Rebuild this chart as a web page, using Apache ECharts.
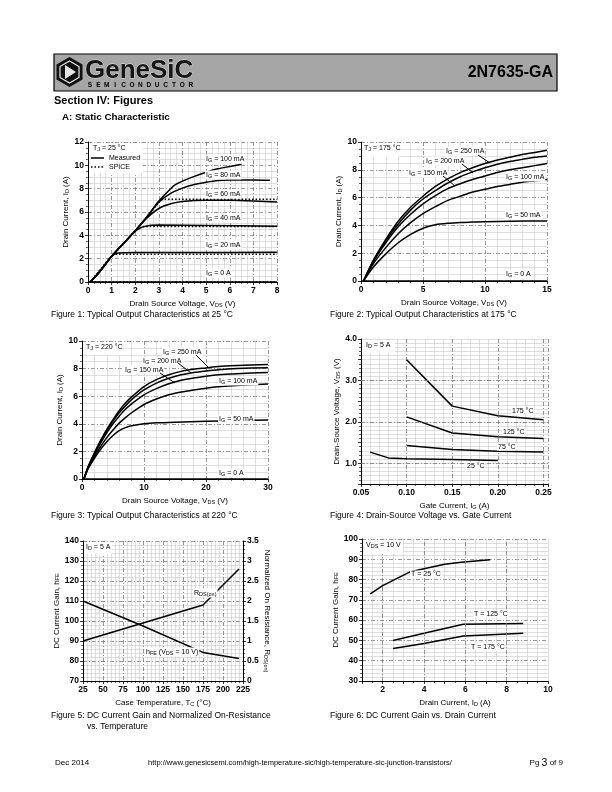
<!DOCTYPE html>
<html><head><meta charset="utf-8">
<script src="https://cdn.jsdelivr.net/npm/echarts@6/dist/echarts.min.js"></script>
<style>html,body{margin:0;padding:0;background:#fff}#c{width:612px;height:792px}</style>
</head><body><div id="c"></div>
<script>
// ---------------- Figure 1 : Tj = 25 °C (VDS [V], ID [A]) ----------------
const f1_ig0   = [[0,0],[8,0]];
const f1_ig20  = [[0.1,0],[0.5,0.9],[1,2.2],[1.2,2.45],[1.5,2.5],[2,2.52],[4,2.53],[8,2.55]];
const f1_ig40  = [[0.1,0],[0.5,0.9],[1,2.2],[1.5,3.3],[2,4.35],[2.3,4.7],[2.6,4.85],[3,4.88],[5,4.85],[8,4.78]];
const f1_ig60  = [[0.1,0],[0.5,0.9],[1,2.2],[1.5,3.3],[2,4.4],[2.5,5.5],[3,6.3],[3.5,6.7],[4,6.9],[5,7.0],[6,7.0],[7,6.95],[8,6.85]];
const f1_ig80  = [[0.1,0],[0.5,0.9],[1,2.2],[1.5,3.3],[2,4.4],[2.5,5.6],[3,6.85],[3.5,7.6],[4,8.05],[4.5,8.35],[5,8.55],[5.5,8.7],[6,8.75],[7,8.75],[7.7,8.72]];
const f1_ig100 = [[0.1,0],[0.5,0.9],[1,2.2],[1.5,3.3],[2,4.4],[2.5,5.6],[3,6.95],[3.5,8.0],[3.7,8.35],[4,8.65],[4.5,9.05],[5,9.4],[5.5,9.7],[6,9.9],[6.5,10.1]];
const f1_sp0   = [[0,0],[8,0]];
const f1_sp20  = [[0.1,0],[1.05,2.38],[8,2.38]];
const f1_sp40  = [[0.1,0],[1,2.2],[2.1,4.6],[2.3,4.75],[8,4.75]];
const f1_sp60  = [[0.1,0],[1,2.2],[2,4.4],[3.1,7.05],[3.3,7.1],[8,7.1]];
const f1_labels = ['100 mA','80 mA','60 mA','40 mA','20 mA','0 A'];

// ---------------- Figure 2 : Tj = 175 °C ----------------
const f2_ig250 = [[0.2,0],[1,1.5],[2,3.0],[3,4.3],[4,5.3],[5,6.1],[6,6.8],[7,7.35],[8,7.8],[9,8.15],[10,8.45],[11,8.7],[12,8.9],[13,9.1],[14,9.25],[15,9.4]];
const f2_ig200 = [[0.2,0],[1,1.45],[2,2.9],[3,4.1],[4,5.1],[5,5.9],[6,6.5],[7,7.05],[8,7.5],[9,7.85],[10,8.15],[11,8.4],[12,8.6],[13,8.75],[14,8.9],[15,9.0]];
const f2_ig150 = [[0.2,0],[1,1.4],[2,2.75],[3,3.9],[4,4.8],[5,5.55],[6,6.15],[7,6.65],[8,7.0],[9,7.3],[10,7.55],[11,7.8],[12,8.0],[13,8.15],[14,8.3],[15,8.45]];
const f2_ig100 = [[0.2,0],[1,1.25],[2,2.4],[3,3.4],[4,4.2],[5,4.85],[6,5.35],[7,5.8],[8,6.1],[9,6.4],[10,6.6],[11,6.8],[12,6.95],[13,7.1],[14,7.2],[15,7.3]];
const f2_ig50  = [[0.2,0],[1,1.0],[2,1.95],[3,2.75],[4,3.35],[5,3.8],[6,4.05],[7,4.15],[8,4.2],[9,4.25],[10,4.27],[12,4.3],[15,4.32]];
const f2_ig0   = [[0,0],[15,0]];

// ---------------- Figure 3 : Tj = 220 °C ----------------
const f3_ig250 = [[0.3,0],[1,0.9],[2,1.9],[3,2.8],[4,3.6],[5,4.3],[6,4.95],[7,5.5],[8,5.95],[10,6.7],[12,7.2],[14,7.55],[16,7.8],[18,7.95],[20,8.05],[22,8.15],[25,8.22],[30,8.3]];
const f3_ig200 = [[0.3,0],[1,0.88],[2,1.85],[3,2.7],[4,3.5],[5,4.2],[6,4.8],[7,5.3],[8,5.75],[10,6.45],[12,6.95],[14,7.3],[16,7.55],[18,7.72],[20,7.83],[22,7.92],[25,8.0],[30,8.07]];
const f3_ig150 = [[0.3,0],[1,0.85],[2,1.75],[3,2.6],[4,3.35],[5,4.0],[6,4.55],[7,5.05],[8,5.45],[10,6.1],[12,6.55],[14,6.9],[16,7.15],[18,7.32],[20,7.45],[22,7.55],[25,7.63],[30,7.72]];
const f3_ig100 = [[0.3,0],[1,0.8],[2,1.6],[3,2.35],[4,3.0],[5,3.55],[6,4.05],[7,4.45],[8,4.8],[10,5.4],[12,5.8],[14,6.1],[16,6.3],[18,6.45],[20,6.58],[22,6.68],[25,6.78],[30,6.88]];
const f3_ig50  = [[0.3,0],[1,0.75],[2,1.5],[3,2.15],[4,2.7],[5,3.15],[6,3.5],[7,3.72],[8,3.86],[10,4.0],[12,4.07],[15,4.12],[20,4.18],[25,4.23],[30,4.28]];
const f3_ig0   = [[0,0],[30,0]];

// ---------------- Figure 4 : VDS vs IG (ID = 5 A) ----------------
const f4_t175 = [[0.10,3.5],[0.15,2.38],[0.20,2.15],[0.25,2.05]];
const f4_t125 = [[0.10,2.12],[0.15,1.73],[0.20,1.64],[0.25,1.6]];
const f4_t75  = [[0.10,1.43],[0.15,1.33],[0.20,1.29],[0.25,1.27]];
const f4_t25  = [[0.06,1.27],[0.08,1.13],[0.10,1.11],[0.15,1.09],[0.20,1.07]];
const f4YMajor = [1, 2, 3];

// ---------------- Figure 5 : hFE and RDS(on) vs Tc ----------------
const f5_hfe = [[25,110],[100,97.5],[175,84.3],[220,81.2]];
const f5_rds = [[25,1.0],[175,1.9],[220,2.8]];

// ---------------- Figure 6 : hFE vs ID ----------------
const f6_t25  = [[1.4,73],[2.0,77],[3.3,83.7],[4.0,85.3],[5.0,87.5],[5.8,88.5],[7.2,89.8]];
const f6_t125 = [[2.5,50],[4,53.5],[5.9,58],[8.8,58.3]];
const f6_t175 = [[2.5,46],[4,48.5],[5.9,52.2],[8.8,53.5]];
const f6XMajor = [2, 4, 6, 8];

// ====================================================================
const FF = '"Liberation Sans", Arial, sans-serif';
const MAJ = {color:'#7c7c7c', width:0.8, type:[4,2,1,2]};
const MIN = {color:'#c8c8c8', width:0.6};
const RICH = {s:{fontFamily:FF, fontSize:5.5, verticalAlign:'bottom', padding:[3,0,0,0]}};
const TICKLBL = {fontFamily:FF, fontSize:8.5, fontWeight:'bold', color:'#000', margin:4};

function axis(gridIndex, min, max, interval, minorN, extra) {
  return Object.assign({
    type:'value', gridIndex, min, max, interval,
    axisLine:{show:true, onZero:false, lineStyle:{color:'#000', width:1}},
    axisTick:{show:true, length:3, lineStyle:{color:'#000', width:0.8}},
    minorTick:{show:true, splitNumber:minorN, length:2, lineStyle:{color:'#000', width:0.6}},
    splitLine:{show:true, lineStyle:MAJ},
    minorSplitLine:{show:true, lineStyle:MIN},
    axisLabel:Object.assign({}, TICKLBL),
    nameLocation:'middle',
    nameTextStyle:{fontFamily:FF, fontSize:8, color:'#000', rich:RICH}
  }, extra || {});
}
function line(xi, yi, data, extra) {
  return Object.assign({
    type:'line', xAxisIndex:xi, yAxisIndex:yi, data, showSymbol:false, symbol:'none',
    silent:true, smooth:0.25,
    lineStyle:{color:'#000', width:1.5}
  }, extra || {});
}
const dotted = {smooth:false, lineStyle:{color:'#000', width:1.5, type:[1.5,2]}};
const straight = {smooth:false};
const mk = (arr, key) => ({silent:true, symbol:'none', label:{show:false},
  lineStyle:MAJ, data:arr.map(v => ({[key]: v}))});

// ---------- graphic helpers ----------
function T(x, y, text, o) {
  o = o || {};
  return {type:'text', z:o.z || 60, style:Object.assign({
    x, y, text, fontFamily:FF, fontSize:o.size || 7, fontWeight:o.weight || 'normal',
    fill:'#000', textAlign:o.align || 'left', align:o.align || 'left',
    textVerticalAlign:'middle', verticalAlign:'middle', rich:RICH
  }, o.style || {})};
}
function lbl(x, y, text) {
  return T(x, y, text, {style:{backgroundColor:'#fff', padding:[0,1]}});
}
function box(x, y, w, h) { return {type:'rect', z:50, shape:{x, y, width:w, height:h}, style:{fill:'#fff'}}; }
function seg(x1, y1, x2, y2, o) {
  return {type:'line', z:61, shape:{x1, y1, x2, y2}, style:Object.assign({stroke:'#000', lineWidth:1}, o || {})};
}
function hex(cx, cy, r) {
  const p = [];
  for (let k = 0; k < 6; k++) { const a = (Math.PI / 3) * k - Math.PI / 2; p.push([cx + r * Math.cos(a), cy + r * Math.sin(a)]); }
  return p;
}

const graphics = [
  // header bar
  {type:'rect', z:1, shape:{x:54, y:54, width:503, height:37}, style:{fill:'#a6a6a6', stroke:'#000', lineWidth:1.2}},
  {type:'polygon', z:2, shape:{points:hex(69.5, 72, 15)}, style:{fill:'#111'}},
  {type:'polygon', z:3, shape:{points:hex(69.5, 72, 11)}, style:{fill:'none', stroke:'#e6e6e6', lineWidth:1.2}},
  {type:'polygon', z:3, shape:{points:[[65,65],[76,72],[65,79]]}, style:{fill:'#e6e6e6'}},
  {type:'text', z:3, style:{x:85, y:71, text:'GeneSiC', fontFamily:FF, fontSize:26, fontWeight:'bold',
    fill:'#151515', stroke:'#e0e0e0', lineWidth:0.8, textAlign:'left', align:'left', textVerticalAlign:'middle', verticalAlign:'middle'}},
  T(553, 73, '2N7635-GA', {size:16, weight:'bold', align:'right'}),
  T(54, 101, 'Section IV: Figures', {size:11, weight:'bold'}),
  T(62, 117, 'A: Static Characteristic', {size:9.8, weight:'bold'}),
  // captions
  T(51, 315, 'Figure 1: Typical Output Characteristics at 25 °C', {size:8.5}),
  T(330, 315, 'Figure 2: Typical Output Characteristics at 175 °C', {size:8.5}),
  T(51, 516, 'Figure 3: Typical Output Characteristics at 220 °C', {size:8.5}),
  T(330, 516, 'Figure 4: Drain-Source Voltage vs. Gate Current', {size:8.5}),
  T(51, 716, 'Figure 5: DC Current Gain and Normalized On-Resistance', {size:8.5}),
  T(87, 727, 'vs. Temperature', {size:8.5}),
  T(330, 716, 'Figure 6: DC Current Gain vs. Drain Current', {size:8.5}),
  // footer
  T(55, 763, 'Dec 2014', {size:8}),
  T(300, 763, 'http://www.genesicsemi.com/high-temperature-sic/high-temperature-sic-junction-transistors/', {size:7.5, align:'center'}),
  T(563, 763, '{a|Pg }{b|3}{a| of 9}', {align:'right', style:{rich:{a:{fontFamily:FF, fontSize:8}, b:{fontFamily:FF, fontSize:10.5}}}}),

  // Figure 1 annotations
  box(89, 143, 54, 30),
  T(93, 148, 'T{s|J} = 25 °C'),
  seg(91, 158, 104, 158, {lineWidth:1.5}),
  T(109, 158, 'Measured'),
  seg(91, 167, 104, 167, {lineWidth:1.5, lineDash:[1.5,2]}),
  T(109, 167, 'SPICE'),
  lbl(205, 159, 'I{s|G} = ' + f1_labels[0]),
  lbl(205, 175, 'I{s|G} = ' + f1_labels[1]),
  lbl(205, 194, 'I{s|G} = ' + f1_labels[2]),
  lbl(205, 218, 'I{s|G} = ' + f1_labels[3]),
  lbl(205, 245, 'I{s|G} = ' + f1_labels[4]),
  lbl(205, 273, 'I{s|G} = ' + f1_labels[5]),

  // Figure 2 annotations
  box(362, 143, 37, 14),
  T(364, 148, 'T{s|J} = 175 °C'),
  lbl(445, 151, 'I{s|G} = 250 mA'), seg(478, 155, 490, 163),
  lbl(425, 161, 'I{s|G} = 200 mA'), seg(462, 164, 473, 173),
  lbl(408, 173, 'I{s|G} = 150 mA'), seg(443, 176, 455, 186),
  lbl(505, 177, 'I{s|G} = 100 mA'),
  lbl(505, 215, 'I{s|G} = 50 mA'),
  lbl(505, 274, 'I{s|G} = 0 A'),

  // Figure 3 annotations
  box(83, 342, 39, 13),
  T(86, 347, 'T{s|J} = 220 °C'),
  lbl(162, 352, 'I{s|G} = 250 mA'), seg(196, 355, 208, 367),
  lbl(142, 361, 'I{s|G} = 200 mA'), seg(178, 363, 191, 373),
  lbl(124, 370, 'I{s|G} = 150 mA'), seg(160, 373, 175, 383),
  lbl(218, 381, 'I{s|G} = 100 mA'),
  lbl(218, 419, 'I{s|G} = 50 mA'),
  lbl(218, 473, 'I{s|G} = 0 A'),

  // Figure 4 annotations
  box(362, 340, 33, 13),
  T(366, 345, 'I{s|D} = 5 A'),
  lbl(511, 411, '175 °C'),
  lbl(502, 432, '125 °C'),
  lbl(497, 447, '75 °C'),
  lbl(466, 466, '25 °C'),

  // Figure 5 annotations
  box(84, 542, 28, 12),
  T(86, 547, 'I{s|D} = 5 A'),
  lbl(193, 593, 'R{s|DS(on)}'),
  lbl(145, 652, 'h{s|FE} (V{s|DS} = 10 V)'),

  // Figure 6 annotations
  box(363, 540, 40, 14),
  T(366, 545, 'V{s|DS} = 10 V'),
  lbl(410, 574, 'T = 25 °C'),
  lbl(473, 614, 'T = 125 °C'),
  lbl(470, 647, 'T = 175 °C')
];
// "SEMICONDUCTOR" letter-spaced under the logo
'SEMICONDUCTOR'.split('').forEach((ch, i) => {
  graphics.push(T(90 + i * 8.4, 85, ch, {size:6.5, weight:'bold', align:'center', z:4}));
});

const fmt2 = v => v.toFixed(2);
const fmtInt1 = v => Math.abs(v - Math.round(v)) < 1e-6 ? v.toFixed(1) : '';
const fmtEven = v => (Math.round(v) % 2 === 0 ? String(Math.round(v)) : '');

const option = {
  animation:false,
  backgroundColor:'#fff',
  grid:[
    {left:88,  top:142, width:189, height:140},
    {left:361, top:142, width:186, height:139},
    {left:82,  top:341, width:186, height:138},
    {left:361, top:339, width:187, height:145},
    {left:83,  top:541, width:160, height:140},
    {left:362, top:539, width:186, height:142}
  ],
  xAxis:[
    axis(0, 0, 8, 1, 4, {name:'Drain Source Voltage, V{s|DS} (V)', nameGap:17}),
    axis(1, 0, 15, 5, 5, {name:'Drain Source Voltage, V{s|DS} (V)', nameGap:17}),
    axis(2, 0, 30, 10, 5, {name:'Drain Source Voltage, V{s|DS} (V)', nameGap:17}),
    axis(3, 0.05, 0.255, 0.05, 5, {name:'Gate Current, I{s|G} (A)', nameGap:17,
      axisLabel:Object.assign({formatter:fmt2}, TICKLBL)}),
    axis(4, 25, 225, 25, 5, {name:'Case Temperature, T{s|C} (°C)', nameGap:17}),
    axis(5, 1, 10, 1, 2, {name:'Drain Current, I{s|D} (A)', nameGap:17,
      splitLine:{show:true, lineStyle:MIN},
      axisLabel:Object.assign({formatter:fmtEven}, TICKLBL)})
  ],
  yAxis:[
    axis(0, 0, 12, 2, 4, {name:'Drain Current, I{s|D} (A)', nameGap:18, nameRotate:90}),
    axis(1, 0, 10, 2, 4, {name:'Drain Current, I{s|D} (A)', nameGap:15, nameRotate:90}),
    axis(2, 0, 10, 2, 4, {name:'Drain Current, I{s|D} (A)', nameGap:18, nameRotate:90}),
    axis(3, 0.5, 4.0, 0.5, 5, {name:'Drain-Source Voltage, V{s|DS} (V)', nameGap:19, nameRotate:90,
      splitLine:{show:true, lineStyle:MIN},
      axisLabel:Object.assign({formatter:fmtInt1}, TICKLBL)}),
    axis(4, 70, 140, 10, 5, {name:'DC Current Gain, h{s|FE}', nameGap:19, nameRotate:90}),
    axis(5, 30, 100, 10, 5, {name:'DC Current Gain, h{s|FE}', nameGap:20, nameRotate:90}),
    axis(4, 0, 3.5, 0.5, 5, {position:'right', name:'Normalized On Resistance, R{s|DS(on)}', nameGap:17, nameRotate:-90,
      splitLine:{show:false}, minorSplitLine:{show:false}})
  ],
  series:[
    // Figure 1
    line(0,0,f1_ig0), line(0,0,f1_ig20), line(0,0,f1_ig40), line(0,0,f1_ig60), line(0,0,f1_ig80), line(0,0,f1_ig100),
    line(0,0,f1_sp0,dotted), line(0,0,f1_sp20,dotted), line(0,0,f1_sp40,dotted), line(0,0,f1_sp60,dotted),
    // Figure 2
    line(1,1,f2_ig250), line(1,1,f2_ig200), line(1,1,f2_ig150), line(1,1,f2_ig100), line(1,1,f2_ig50), line(1,1,f2_ig0),
    // Figure 3
    line(2,2,f3_ig250), line(2,2,f3_ig200), line(2,2,f3_ig150), line(2,2,f3_ig100), line(2,2,f3_ig50), line(2,2,f3_ig0),
    // Figure 4
    line(3,3,f4_t175,Object.assign({markLine:mk(f4YMajor,'yAxis')},straight)),
    line(3,3,f4_t125,straight), line(3,3,f4_t75,straight), line(3,3,f4_t25,straight),
    // Figure 5
    line(4,4,f5_hfe,straight), line(4,6,f5_rds,straight),
    // Figure 6
    line(5,5,f6_t25,Object.assign({markLine:mk(f6XMajor,'xAxis')},straight)),
    line(5,5,f6_t125,straight), line(5,5,f6_t175,straight)
  ],
  graphic:graphics
};

const chart = echarts.init(document.getElementById('c'), null, {renderer:'canvas', width:612, height:792});
chart.setOption(option);
</script></body></html>
